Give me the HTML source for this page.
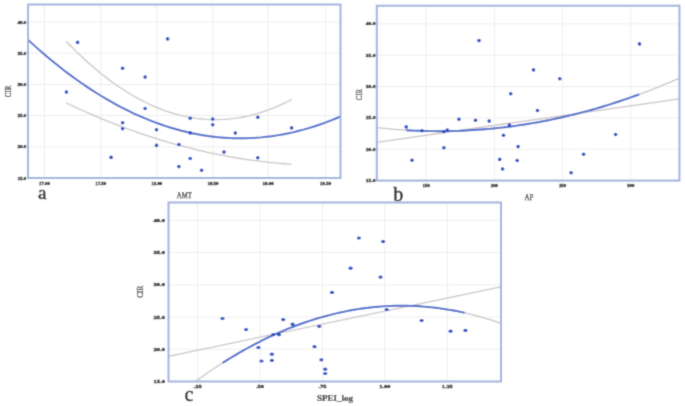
<!DOCTYPE html>
<html><head><meta charset="utf-8"><style>
html,body{margin:0;padding:0;background:#fff;}
body{width:685px;height:406px;overflow:hidden;}
svg{display:block;}
#w{width:685px;height:406px;}
.t{font-family:"Liberation Serif",serif;font-weight:bold;fill:#222;stroke:#222;stroke-width:0.35px;}
.s{font-family:"Liberation Serif",serif;fill:#333;stroke:#333;stroke-width:0.25px;}
.sb{font-family:"Liberation Serif",serif;font-weight:bold;fill:#333;stroke:#333;stroke-width:0.2px;}
.L{font-family:"Liberation Serif",serif;fill:#222;stroke:#222;stroke-width:0.45px;}
</style></head><body>
<div id="w"><svg width="685" height="406" viewBox="0 0 685 406"><defs><filter id="bl" x="0" y="0" width="100%" height="100%" filterUnits="userSpaceOnUse"><feConvolveMatrix order="3" kernelMatrix="0.0622 0.2494 0.0622 0.2494 1.0000 0.2494 0.0622 0.2494 0.0622" edgeMode="duplicate" preserveAlpha="true"/></filter></defs><g filter="url(#bl)"><rect width="685" height="406" fill="#fff"/>
<line x1="44.5" y1="4.5" x2="44.5" y2="178" stroke="#eeeeee" stroke-width="1"/>
<line x1="100.7" y1="4.5" x2="100.7" y2="178" stroke="#eeeeee" stroke-width="1"/>
<line x1="156.8" y1="4.5" x2="156.8" y2="178" stroke="#eeeeee" stroke-width="1"/>
<line x1="213.0" y1="4.5" x2="213.0" y2="178" stroke="#eeeeee" stroke-width="1"/>
<line x1="268.1" y1="4.5" x2="268.1" y2="178" stroke="#eeeeee" stroke-width="1"/>
<line x1="325.6" y1="4.5" x2="325.6" y2="178" stroke="#eeeeee" stroke-width="1"/>
<line x1="28" y1="146.8" x2="340.5" y2="146.8" stroke="#eeeeee" stroke-width="1"/>
<line x1="28" y1="115.6" x2="340.5" y2="115.6" stroke="#eeeeee" stroke-width="1"/>
<line x1="28" y1="84.4" x2="340.5" y2="84.4" stroke="#eeeeee" stroke-width="1"/>
<line x1="28" y1="53.2" x2="340.5" y2="53.2" stroke="#eeeeee" stroke-width="1"/>
<line x1="28" y1="22.0" x2="340.5" y2="22.0" stroke="#eeeeee" stroke-width="1"/>
<path d="M66.20,41.32 L70.02,45.27 L73.84,49.12 L77.66,52.86 L81.48,56.50 L85.30,60.04 L89.12,63.48 L92.94,66.82 L96.76,70.05 L100.58,73.18 L104.40,76.21 L108.22,79.14 L112.04,81.96 L115.86,84.68 L119.68,87.30 L123.51,89.82 L127.33,92.24 L131.15,94.55 L134.97,96.77 L138.79,98.88 L142.61,100.88 L146.43,102.79 L150.25,104.59 L154.07,106.30 L157.89,107.89 L161.71,109.39 L165.53,110.79 L169.35,112.08 L173.17,113.27 L176.99,114.36 L180.81,115.35 L184.63,116.23 L188.45,117.02 L192.27,117.70 L196.09,118.28 L199.91,118.75 L203.73,119.13 L207.55,119.40 L211.37,119.57 L215.19,119.64 L219.01,119.60 L222.83,119.47 L226.65,119.23 L230.47,118.89 L234.29,118.45 L238.12,117.90 L241.94,117.25 L245.76,116.51 L249.58,115.65 L253.40,114.70 L257.22,113.65 L261.04,112.49 L264.86,111.23 L268.68,109.87 L272.50,108.41 L276.32,106.84 L280.14,105.17 L283.96,103.40 L287.78,101.53 L291.60,99.56" fill="none" stroke="#cbc3c8" stroke-width="1.3"/>
<path d="M66.20,102.94 L70.02,104.75 L73.84,106.53 L77.66,108.29 L81.48,110.02 L85.30,111.73 L89.12,113.41 L92.94,115.06 L96.76,116.69 L100.58,118.29 L104.40,119.86 L108.22,121.41 L112.04,122.93 L115.86,124.42 L119.68,125.89 L123.51,127.32 L127.33,128.74 L131.15,130.12 L134.97,131.48 L138.79,132.82 L142.61,134.12 L146.43,135.40 L150.25,136.66 L154.07,137.88 L157.89,139.09 L161.71,140.26 L165.53,141.41 L169.35,142.53 L173.17,143.62 L176.99,144.69 L180.81,145.73 L184.63,146.74 L188.45,147.73 L192.27,148.69 L196.09,149.62 L199.91,150.53 L203.73,151.41 L207.55,152.27 L211.37,153.10 L215.19,153.90 L219.01,154.67 L222.83,155.42 L226.65,156.14 L230.47,156.84 L234.29,157.50 L238.12,158.15 L241.94,158.76 L245.76,159.35 L249.58,159.91 L253.40,160.45 L257.22,160.95 L261.04,161.44 L264.86,161.89 L268.68,162.32 L272.50,162.72 L276.32,163.10 L280.14,163.45 L283.96,163.77 L287.78,164.07 L291.60,164.33" fill="none" stroke="#cbc3c8" stroke-width="1.3"/>
<path d="M28.00,39.79 L33.30,44.64 L38.59,49.36 L43.89,53.97 L49.19,58.45 L54.48,62.81 L59.78,67.04 L65.08,71.16 L70.37,75.15 L75.67,79.02 L80.97,82.77 L86.26,86.39 L91.56,89.89 L96.86,93.27 L102.15,96.53 L107.45,99.67 L112.75,102.68 L118.04,105.57 L123.34,108.34 L128.64,110.98 L133.93,113.51 L139.23,115.91 L144.53,118.19 L149.82,120.35 L155.12,122.38 L160.42,124.29 L165.71,126.08 L171.01,127.75 L176.31,129.29 L181.60,130.72 L186.90,132.02 L192.19,133.19 L197.49,134.25 L202.79,135.18 L208.08,136.00 L213.38,136.68 L218.68,137.25 L223.97,137.69 L229.27,138.02 L234.57,138.22 L239.86,138.29 L245.16,138.25 L250.46,138.08 L255.75,137.79 L261.05,137.38 L266.35,136.84 L271.64,136.19 L276.94,135.41 L282.24,134.51 L287.53,133.48 L292.83,132.34 L298.13,131.07 L303.42,129.68 L308.72,128.16 L314.02,126.53 L319.31,124.77 L324.61,122.89 L329.91,120.89 L335.20,118.76 L340.50,116.51" fill="none" stroke="#4569cc" stroke-width="1.95"/>
<ellipse cx="77.6" cy="42.4" rx="1.8" ry="1.8" fill="#2246c2"/>
<ellipse cx="167.6" cy="38.9" rx="1.8" ry="1.8" fill="#2246c2"/>
<ellipse cx="122.6" cy="68.2" rx="1.8" ry="1.8" fill="#2246c2"/>
<ellipse cx="145.1" cy="77.1" rx="1.8" ry="1.8" fill="#2246c2"/>
<ellipse cx="66.4" cy="92.1" rx="1.8" ry="1.8" fill="#2246c2"/>
<ellipse cx="145.1" cy="108.5" rx="1.8" ry="1.8" fill="#2246c2"/>
<ellipse cx="190.2" cy="118.3" rx="1.8" ry="1.8" fill="#2246c2"/>
<ellipse cx="212.7" cy="119.1" rx="1.8" ry="1.8" fill="#2246c2"/>
<ellipse cx="257.8" cy="117.3" rx="1.8" ry="1.8" fill="#2246c2"/>
<ellipse cx="122.6" cy="122.8" rx="1.8" ry="1.8" fill="#2246c2"/>
<ellipse cx="212.7" cy="124.7" rx="1.8" ry="1.8" fill="#2246c2"/>
<ellipse cx="122.6" cy="128.8" rx="1.8" ry="1.8" fill="#2246c2"/>
<ellipse cx="156.5" cy="129.7" rx="1.8" ry="1.8" fill="#2246c2"/>
<ellipse cx="291.6" cy="127.9" rx="1.8" ry="1.8" fill="#2246c2"/>
<ellipse cx="190.2" cy="132.9" rx="1.8" ry="1.8" fill="#2246c2"/>
<ellipse cx="235.3" cy="133.1" rx="1.8" ry="1.8" fill="#2246c2"/>
<ellipse cx="178.9" cy="144.5" rx="1.8" ry="1.8" fill="#2246c2"/>
<ellipse cx="156.5" cy="145.4" rx="1.8" ry="1.8" fill="#2246c2"/>
<ellipse cx="224" cy="152.1" rx="1.8" ry="1.8" fill="#2246c2"/>
<ellipse cx="111.1" cy="157.4" rx="1.8" ry="1.8" fill="#2246c2"/>
<ellipse cx="190.2" cy="158.5" rx="1.8" ry="1.8" fill="#2246c2"/>
<ellipse cx="257.8" cy="157.7" rx="1.8" ry="1.8" fill="#2246c2"/>
<ellipse cx="178.9" cy="166.6" rx="1.8" ry="1.8" fill="#2246c2"/>
<ellipse cx="201.6" cy="170.3" rx="1.8" ry="1.8" fill="#2246c2"/>
<rect x="28" y="4.5" width="312.5" height="173.5" fill="none" stroke="#a0b2de" stroke-width="2.0"/>
<text x="26.2" y="23.5" font-size="4.6" text-anchor="end" textLength="8.8" lengthAdjust="spacingAndGlyphs" class="t">40.0</text>
<text x="26.2" y="54.7" font-size="4.6" text-anchor="end" textLength="8.8" lengthAdjust="spacingAndGlyphs" class="t">35.0</text>
<text x="26.2" y="85.9" font-size="4.6" text-anchor="end" textLength="8.8" lengthAdjust="spacingAndGlyphs" class="t">30.0</text>
<text x="26.2" y="117.1" font-size="4.6" text-anchor="end" textLength="8.8" lengthAdjust="spacingAndGlyphs" class="t">25.0</text>
<text x="26.2" y="148.3" font-size="4.6" text-anchor="end" textLength="8.8" lengthAdjust="spacingAndGlyphs" class="t">20.0</text>
<text x="26.2" y="179.5" font-size="4.6" text-anchor="end" textLength="8.8" lengthAdjust="spacingAndGlyphs" class="t">15.0</text>
<text x="44.5" y="184.8" font-size="4.6" text-anchor="middle" textLength="11" lengthAdjust="spacingAndGlyphs" class="t">17.00</text>
<text x="100.7" y="184.8" font-size="4.6" text-anchor="middle" textLength="11" lengthAdjust="spacingAndGlyphs" class="t">17.50</text>
<text x="156.8" y="184.8" font-size="4.6" text-anchor="middle" textLength="11" lengthAdjust="spacingAndGlyphs" class="t">18.00</text>
<text x="213.0" y="184.8" font-size="4.6" text-anchor="middle" textLength="11" lengthAdjust="spacingAndGlyphs" class="t">18.50</text>
<text x="268.1" y="184.8" font-size="4.6" text-anchor="middle" textLength="11" lengthAdjust="spacingAndGlyphs" class="t">19.00</text>
<text x="325.6" y="184.8" font-size="4.6" text-anchor="middle" textLength="11" lengthAdjust="spacingAndGlyphs" class="t">19.50</text>
<line x1="426.2" y1="5.7" x2="426.2" y2="180.6" stroke="#eeeeee" stroke-width="1"/>
<line x1="494.37" y1="5.7" x2="494.37" y2="180.6" stroke="#eeeeee" stroke-width="1"/>
<line x1="562.54" y1="5.7" x2="562.54" y2="180.6" stroke="#eeeeee" stroke-width="1"/>
<line x1="630.71" y1="5.7" x2="630.71" y2="180.6" stroke="#eeeeee" stroke-width="1"/>
<line x1="376.8" y1="149.24" x2="679.4" y2="149.24" stroke="#eeeeee" stroke-width="1"/>
<line x1="376.8" y1="117.88" x2="679.4" y2="117.88" stroke="#eeeeee" stroke-width="1"/>
<line x1="376.8" y1="86.52" x2="679.4" y2="86.52" stroke="#eeeeee" stroke-width="1"/>
<line x1="376.8" y1="55.16" x2="679.4" y2="55.16" stroke="#eeeeee" stroke-width="1"/>
<line x1="376.8" y1="23.799999999999983" x2="679.4" y2="23.799999999999983" stroke="#eeeeee" stroke-width="1"/>
<path d="M376.80,127.61 L381.93,128.18 L387.06,128.69 L392.19,129.16 L397.32,129.57 L402.44,129.94 L407.57,130.26 L412.70,130.54 L417.83,130.76 L422.96,130.94 L428.09,131.06 L433.22,131.14 L438.35,131.17 L443.47,131.16 L448.60,131.09 L453.73,130.98 L458.86,130.81 L463.99,130.60 L469.12,130.34 L474.25,130.04 L479.38,129.68 L484.51,129.28 L489.63,128.83 L494.76,128.32 L499.89,127.78 L505.02,127.18 L510.15,126.53 L515.28,125.84 L520.41,125.10 L525.54,124.31 L530.66,123.47 L535.79,122.58 L540.92,121.65 L546.05,120.66 L551.18,119.63 L556.31,118.55 L561.44,117.42 L566.57,116.24 L571.69,115.02 L576.82,113.75 L581.95,112.42 L587.08,111.05 L592.21,109.63 L597.34,108.17 L602.47,106.65 L607.60,105.09 L612.73,103.48 L617.85,101.82 L622.98,100.11 L628.11,98.35 L633.24,96.55 L638.37,94.69 L643.50,92.79 L648.63,90.84 L653.76,88.84 L658.88,86.80 L664.01,84.70 L669.14,82.56 L674.27,80.37 L679.40,78.13" fill="none" stroke="#cbc3c8" stroke-width="1.3"/>
<line x1="376.8" y1="142.3" x2="679.4" y2="98.8" stroke="#cbc3c8" stroke-width="1.3"/>
<path d="M406.20,130.18 L410.15,130.41 L414.10,130.60 L418.05,130.77 L422.00,130.91 L425.95,131.02 L429.91,131.10 L433.86,131.15 L437.81,131.17 L441.76,131.17 L445.71,131.13 L449.66,131.07 L453.61,130.98 L457.56,130.86 L461.51,130.71 L465.46,130.53 L469.41,130.33 L473.36,130.09 L477.32,129.83 L481.27,129.54 L485.22,129.22 L489.17,128.87 L493.12,128.49 L497.07,128.08 L501.02,127.65 L504.97,127.18 L508.92,126.69 L512.87,126.17 L516.82,125.62 L520.77,125.04 L524.73,124.43 L528.68,123.80 L532.63,123.13 L536.58,122.44 L540.53,121.72 L544.48,120.97 L548.43,120.19 L552.38,119.38 L556.33,118.54 L560.28,117.68 L564.23,116.79 L568.18,115.86 L572.14,114.91 L576.09,113.93 L580.04,112.92 L583.99,111.89 L587.94,110.82 L591.89,109.72 L595.84,108.60 L599.79,107.45 L603.74,106.27 L607.69,105.06 L611.64,103.82 L615.59,102.55 L619.55,101.26 L623.50,99.93 L627.45,98.58 L631.40,97.20 L635.35,95.79 L639.30,94.35" fill="none" stroke="#4569cc" stroke-width="1.95"/>
<ellipse cx="406.2" cy="126.9" rx="1.8" ry="1.8" fill="#2246c2"/>
<ellipse cx="412" cy="160.2" rx="1.8" ry="1.8" fill="#2246c2"/>
<ellipse cx="422" cy="130.8" rx="1.8" ry="1.8" fill="#2246c2"/>
<ellipse cx="443.9" cy="131.6" rx="1.8" ry="1.8" fill="#2246c2"/>
<ellipse cx="447.3" cy="130.1" rx="1.8" ry="1.8" fill="#2246c2"/>
<ellipse cx="443.9" cy="147.7" rx="1.8" ry="1.8" fill="#2246c2"/>
<ellipse cx="458.9" cy="119.3" rx="1.8" ry="1.8" fill="#2246c2"/>
<ellipse cx="479" cy="40.6" rx="1.8" ry="1.8" fill="#2246c2"/>
<ellipse cx="475.5" cy="120.2" rx="1.8" ry="1.8" fill="#2246c2"/>
<ellipse cx="489.2" cy="121.1" rx="1.8" ry="1.8" fill="#2246c2"/>
<ellipse cx="509.4" cy="125.1" rx="1.8" ry="1.8" fill="#2246c2"/>
<ellipse cx="503.5" cy="135.3" rx="1.8" ry="1.8" fill="#2246c2"/>
<ellipse cx="499.7" cy="159.4" rx="1.8" ry="1.8" fill="#2246c2"/>
<ellipse cx="502.6" cy="169" rx="1.8" ry="1.8" fill="#2246c2"/>
<ellipse cx="510.7" cy="93.7" rx="1.8" ry="1.8" fill="#2246c2"/>
<ellipse cx="518.1" cy="146.6" rx="1.8" ry="1.8" fill="#2246c2"/>
<ellipse cx="517.2" cy="160.5" rx="1.8" ry="1.8" fill="#2246c2"/>
<ellipse cx="533.5" cy="69.9" rx="1.8" ry="1.8" fill="#2246c2"/>
<ellipse cx="537.5" cy="110.5" rx="1.8" ry="1.8" fill="#2246c2"/>
<ellipse cx="559.8" cy="78.8" rx="1.8" ry="1.8" fill="#2246c2"/>
<ellipse cx="571.1" cy="172.7" rx="1.8" ry="1.8" fill="#2246c2"/>
<ellipse cx="583.6" cy="154.2" rx="1.8" ry="1.8" fill="#2246c2"/>
<ellipse cx="615.6" cy="134.5" rx="1.8" ry="1.8" fill="#2246c2"/>
<ellipse cx="639.5" cy="43.9" rx="1.8" ry="1.8" fill="#2246c2"/>
<rect x="376.8" y="5.7" width="302.59999999999997" height="174.9" fill="none" stroke="#a0b2de" stroke-width="2.0"/>
<text x="375.4" y="25.2" font-size="4.6" text-anchor="end" textLength="9.6" lengthAdjust="spacingAndGlyphs" class="t">40.0</text>
<text x="375.4" y="56.56" font-size="4.6" text-anchor="end" textLength="9.6" lengthAdjust="spacingAndGlyphs" class="t">35.0</text>
<text x="375.4" y="87.92" font-size="4.6" text-anchor="end" textLength="9.6" lengthAdjust="spacingAndGlyphs" class="t">30.0</text>
<text x="375.4" y="119.28" font-size="4.6" text-anchor="end" textLength="9.6" lengthAdjust="spacingAndGlyphs" class="t">25.0</text>
<text x="375.4" y="150.64" font-size="4.6" text-anchor="end" textLength="9.6" lengthAdjust="spacingAndGlyphs" class="t">20.0</text>
<text x="375.4" y="182.0" font-size="4.6" text-anchor="end" textLength="9.6" lengthAdjust="spacingAndGlyphs" class="t">15.0</text>
<text x="426.2" y="187.2" font-size="4.6" text-anchor="middle" textLength="7.2" lengthAdjust="spacingAndGlyphs" class="t">150</text>
<text x="494.37" y="187.2" font-size="4.6" text-anchor="middle" textLength="7.2" lengthAdjust="spacingAndGlyphs" class="t">200</text>
<text x="562.54" y="187.2" font-size="4.6" text-anchor="middle" textLength="7.2" lengthAdjust="spacingAndGlyphs" class="t">250</text>
<text x="630.71" y="187.2" font-size="4.6" text-anchor="middle" textLength="7.2" lengthAdjust="spacingAndGlyphs" class="t">300</text>
<line x1="197.6" y1="202.5" x2="197.6" y2="381.5" stroke="#eeeeee" stroke-width="1"/>
<line x1="260.0" y1="202.5" x2="260.0" y2="381.5" stroke="#eeeeee" stroke-width="1"/>
<line x1="322.4" y1="202.5" x2="322.4" y2="381.5" stroke="#eeeeee" stroke-width="1"/>
<line x1="384.79999999999995" y1="202.5" x2="384.79999999999995" y2="381.5" stroke="#eeeeee" stroke-width="1"/>
<line x1="447.2" y1="202.5" x2="447.2" y2="381.5" stroke="#eeeeee" stroke-width="1"/>
<line x1="168.5" y1="349.26" x2="501" y2="349.26" stroke="#eeeeee" stroke-width="1"/>
<line x1="168.5" y1="317.02" x2="501" y2="317.02" stroke="#eeeeee" stroke-width="1"/>
<line x1="168.5" y1="284.78" x2="501" y2="284.78" stroke="#eeeeee" stroke-width="1"/>
<line x1="168.5" y1="252.54" x2="501" y2="252.54" stroke="#eeeeee" stroke-width="1"/>
<line x1="168.5" y1="220.29999999999998" x2="501" y2="220.29999999999998" stroke="#eeeeee" stroke-width="1"/>
<path d="M197.00,380.40 L202.15,376.69 L207.31,373.07 L212.46,369.55 L217.61,366.12 L222.76,362.79 L227.92,359.55 L233.07,356.41 L238.22,353.36 L243.37,350.41 L248.53,347.55 L253.68,344.78 L258.83,342.11 L263.98,339.54 L269.14,337.06 L274.29,334.67 L279.44,332.38 L284.59,330.18 L289.75,328.08 L294.90,326.07 L300.05,324.16 L305.20,322.34 L310.36,320.62 L315.51,318.99 L320.66,317.45 L325.81,316.01 L330.97,314.67 L336.12,313.41 L341.27,312.26 L346.42,311.20 L351.58,310.23 L356.73,309.36 L361.88,308.58 L367.03,307.89 L372.19,307.30 L377.34,306.81 L382.49,306.41 L387.64,306.10 L392.80,305.89 L397.95,305.78 L403.10,305.76 L408.25,305.83 L413.41,306.00 L418.56,306.26 L423.71,306.61 L428.86,307.07 L434.02,307.61 L439.17,308.25 L444.32,308.99 L449.47,309.82 L454.63,310.74 L459.78,311.76 L464.93,312.87 L470.08,314.08 L475.24,315.38 L480.39,316.78 L485.54,318.27 L490.69,319.86 L495.85,321.54 L501.00,323.31" fill="none" stroke="#cbc3c8" stroke-width="1.3"/>
<line x1="168.5" y1="356.3" x2="501" y2="286.8" stroke="#cbc3c8" stroke-width="1.3"/>
<path d="M222.60,362.89 L226.70,360.31 L230.80,357.78 L234.91,355.31 L239.01,352.91 L243.11,350.56 L247.21,348.27 L251.31,346.04 L255.41,343.87 L259.52,341.77 L263.62,339.72 L267.72,337.73 L271.82,335.80 L275.92,333.94 L280.02,332.13 L284.13,330.38 L288.23,328.69 L292.33,327.06 L296.43,325.49 L300.53,323.99 L304.63,322.54 L308.74,321.15 L312.84,319.82 L316.94,318.55 L321.04,317.34 L325.14,316.19 L329.24,315.11 L333.35,314.08 L337.45,313.11 L341.55,312.20 L345.65,311.35 L349.75,310.56 L353.85,309.83 L357.96,309.16 L362.06,308.55 L366.16,308.00 L370.26,307.51 L374.36,307.08 L378.46,306.71 L382.57,306.40 L386.67,306.15 L390.77,305.96 L394.87,305.84 L398.97,305.77 L403.07,305.76 L407.18,305.80 L411.28,305.91 L415.38,306.08 L419.48,306.31 L423.58,306.60 L427.68,306.95 L431.79,307.36 L435.89,307.83 L439.99,308.36 L444.09,308.95 L448.19,309.60 L452.29,310.31 L456.40,311.08 L460.50,311.91 L464.60,312.80" fill="none" stroke="#4569cc" stroke-width="1.95"/>
<ellipse cx="222.5" cy="318.5" rx="2.1" ry="1.6" fill="#2246c2"/>
<ellipse cx="246.1" cy="329.5" rx="2.1" ry="1.6" fill="#2246c2"/>
<ellipse cx="258.4" cy="347.5" rx="2.1" ry="1.6" fill="#2246c2"/>
<ellipse cx="261.5" cy="361" rx="2.1" ry="1.6" fill="#2246c2"/>
<ellipse cx="271.9" cy="354.2" rx="2.1" ry="1.6" fill="#2246c2"/>
<ellipse cx="271.9" cy="360.4" rx="2.1" ry="1.6" fill="#2246c2"/>
<ellipse cx="273.3" cy="334.6" rx="2.1" ry="1.6" fill="#2246c2"/>
<ellipse cx="279" cy="334.7" rx="2.1" ry="1.6" fill="#2246c2"/>
<ellipse cx="283.2" cy="319.6" rx="2.1" ry="1.6" fill="#2246c2"/>
<ellipse cx="292.6" cy="324.2" rx="2.1" ry="1.6" fill="#2246c2"/>
<ellipse cx="314.5" cy="346.7" rx="2.1" ry="1.6" fill="#2246c2"/>
<ellipse cx="319.2" cy="326.3" rx="2.1" ry="1.6" fill="#2246c2"/>
<ellipse cx="321.4" cy="359.8" rx="2.1" ry="1.6" fill="#2246c2"/>
<ellipse cx="325.2" cy="369.2" rx="2.1" ry="1.6" fill="#2246c2"/>
<ellipse cx="325.2" cy="373.5" rx="2.1" ry="1.6" fill="#2246c2"/>
<ellipse cx="332" cy="292.4" rx="2.1" ry="1.6" fill="#2246c2"/>
<ellipse cx="350.6" cy="268.2" rx="2.1" ry="1.6" fill="#2246c2"/>
<ellipse cx="358.9" cy="238" rx="2.1" ry="1.6" fill="#2246c2"/>
<ellipse cx="380.5" cy="277.1" rx="2.1" ry="1.6" fill="#2246c2"/>
<ellipse cx="383.1" cy="241.6" rx="2.1" ry="1.6" fill="#2246c2"/>
<ellipse cx="386.7" cy="309.5" rx="2.1" ry="1.6" fill="#2246c2"/>
<ellipse cx="421.6" cy="320.5" rx="2.1" ry="1.6" fill="#2246c2"/>
<ellipse cx="450.6" cy="331.2" rx="2.1" ry="1.6" fill="#2246c2"/>
<ellipse cx="465.4" cy="330.4" rx="2.1" ry="1.6" fill="#2246c2"/>
<rect x="168.5" y="202.5" width="332.5" height="179.0" fill="none" stroke="#a0b2de" stroke-width="2.0"/>
<text x="165" y="222.0" font-size="4.6" text-anchor="end" textLength="11.5" lengthAdjust="spacingAndGlyphs" class="t">40.0</text>
<text x="165" y="254.24" font-size="4.6" text-anchor="end" textLength="11.5" lengthAdjust="spacingAndGlyphs" class="t">35.0</text>
<text x="165" y="286.48" font-size="4.6" text-anchor="end" textLength="11.5" lengthAdjust="spacingAndGlyphs" class="t">30.0</text>
<text x="165" y="318.72" font-size="4.6" text-anchor="end" textLength="11.5" lengthAdjust="spacingAndGlyphs" class="t">25.0</text>
<text x="165" y="350.96000000000004" font-size="4.6" text-anchor="end" textLength="11.5" lengthAdjust="spacingAndGlyphs" class="t">20.0</text>
<text x="165" y="383.20000000000005" font-size="4.6" text-anchor="end" textLength="11.5" lengthAdjust="spacingAndGlyphs" class="t">15.0</text>
<text x="197.6" y="387.8" font-size="4.6" text-anchor="middle" textLength="8" lengthAdjust="spacingAndGlyphs" class="t">.25</text>
<text x="260.0" y="387.8" font-size="4.6" text-anchor="middle" textLength="8" lengthAdjust="spacingAndGlyphs" class="t">.50</text>
<text x="322.4" y="387.8" font-size="4.6" text-anchor="middle" textLength="8" lengthAdjust="spacingAndGlyphs" class="t">.75</text>
<text x="384.79999999999995" y="387.8" font-size="4.6" text-anchor="middle" textLength="11" lengthAdjust="spacingAndGlyphs" class="t">1.00</text>
<text x="447.2" y="387.8" font-size="4.6" text-anchor="middle" textLength="11" lengthAdjust="spacingAndGlyphs" class="t">1.25</text>
<text x="184.3" y="197.6" font-size="7.6" text-anchor="middle" textLength="15" lengthAdjust="spacingAndGlyphs" class="s">AMT</text>
<text x="529" y="199.7" font-size="8" text-anchor="middle" textLength="9" lengthAdjust="spacingAndGlyphs" class="s">AP</text>
<text x="335" y="401" font-size="8.6" text-anchor="middle" textLength="36" lengthAdjust="spacingAndGlyphs" class="sb">SPEI_log</text>
<text transform="translate(11.1,91.5) rotate(-90)" x="0" y="0" font-size="7.4" text-anchor="middle" textLength="11.5" lengthAdjust="spacingAndGlyphs" class="s">CIR</text>
<text transform="translate(362.3,94.7) rotate(-90)" x="0" y="0" font-size="7.4" text-anchor="middle" textLength="11" lengthAdjust="spacingAndGlyphs" class="s">CIR</text>
<text transform="translate(143.2,291.8) rotate(-90)" x="0" y="0" font-size="7.4" text-anchor="middle" textLength="12" lengthAdjust="spacingAndGlyphs" class="s">CIR</text>
<text x="38" y="199.4" font-size="19" class="L">a</text>
<text x="393.3" y="200.8" font-size="20" class="L">b</text>
<text x="184.6" y="400.6" font-size="20" class="L">c</text>
</g></svg></div>
</body></html>
